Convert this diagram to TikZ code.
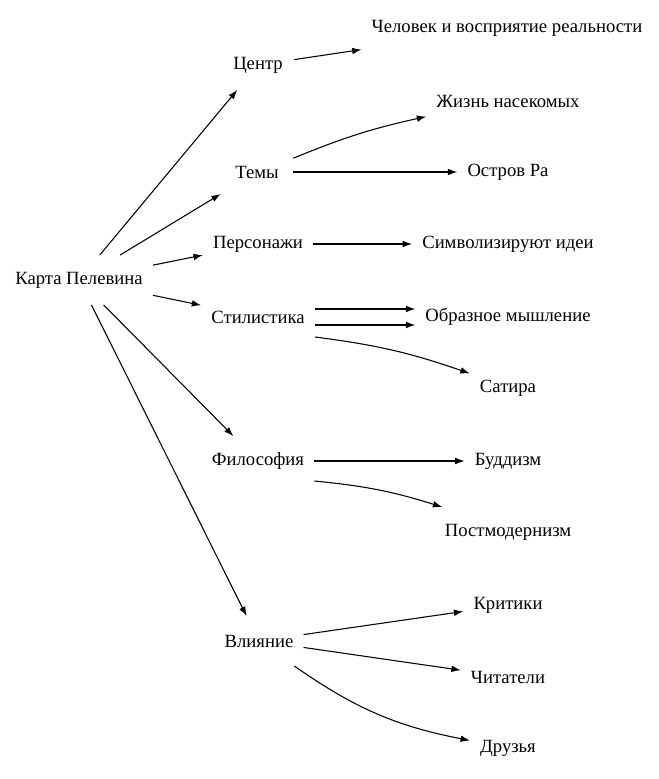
\documentclass[tikz,border=0pt]{standalone}
\usepackage{fontspec}
\setmainfont{Liberation Serif}
\usetikzlibrary{positioning}
\usetikzlibrary{arrows.meta}
\tikzset{nd/.style={rectangle,inner xsep=7.5pt,inner ysep=2pt,minimum width=54pt,minimum height=37pt,font=\fontsize{14pt}{16pt}\selectfont}}
\tikzset{>={Latex[length=7pt,width=5pt]}}
\tikzset{ln/.style={line width=0.8pt}}

\begin{document}
\begin{tikzpicture}[x=0.75pt,y=-0.75pt]
\useasboundingbox (0,0) rectangle (659,779);
\node[nd] (karta) at (79, 280) {Карта Пелевина};
\node[nd] (centr) at (258, 65) {Центр};
\node[nd] (temy) at (257, 172) {Темы};
\node[nd] (pers) at (258, 244) {Персонажи};
\node[nd] (stil) at (258, 317) {Стилистика};
\node[nd] (filo) at (258, 461) {Философия};
\node[nd] (vliy) at (259, 641) {Влияние};

\node[nd] (chel) at (507, 28) {Человек и восприятие реальности};
\node[nd] (zhizn) at (508, 101) {Жизнь насекомых};
\node[nd] (ostrov) at (508, 172) {Остров Ра};
\node[nd] (simv) at (508, 244) {Символизируют идеи};
\node[nd] (obraz) at (508, 317) {Образное мышление};
\node[nd] (satira) at (508, 388) {Сатира};
\node[nd] (budd) at (508, 461) {Буддизм};
\node[nd] (postm) at (508, 532) {Постмодернизм};
\node[nd] (krit) at (508, 605) {Критики};
\node[nd] (chit) at (508, 677) {Читатели};
\node[nd] (druz) at (508, 748) {Друзья};

\draw[->,ln] (karta) -- (centr);
\draw[->,ln] (karta) -- (temy);
\draw[->,ln] (karta) -- (pers);
\draw[->,ln] (karta) -- (stil);
\draw[->,ln] (karta) -- (filo);
\draw[->,ln] (karta) -- (vliy);

\draw[->,ln] (centr) -- (chel);
\draw[->,ln] (temy) to[bend left=5] (zhizn);
\draw[->,ln] (temy) -- (ostrov);
\draw[->,ln] (pers) -- (simv);
\draw[->,ln] ([yshift=6pt]stil.east) -- ([yshift=6pt]obraz.west);
\draw[->,ln] ([yshift=-6pt]stil.east) -- ([yshift=-6pt]obraz.west);
\draw[->,ln] ([yshift=-15pt]stil.east) to[bend left=6] (satira);
\draw[->,ln] (filo) -- (budd);
\draw[->,ln] ([yshift=-15pt]filo.east) to[bend left=6] (postm);
\draw[->,ln] (vliy) -- (krit);
\draw[->,ln] (vliy) -- (chit);
\draw[->,ln] (vliy) to[bend right=12] (druz);
\end{tikzpicture}
\end{document}
